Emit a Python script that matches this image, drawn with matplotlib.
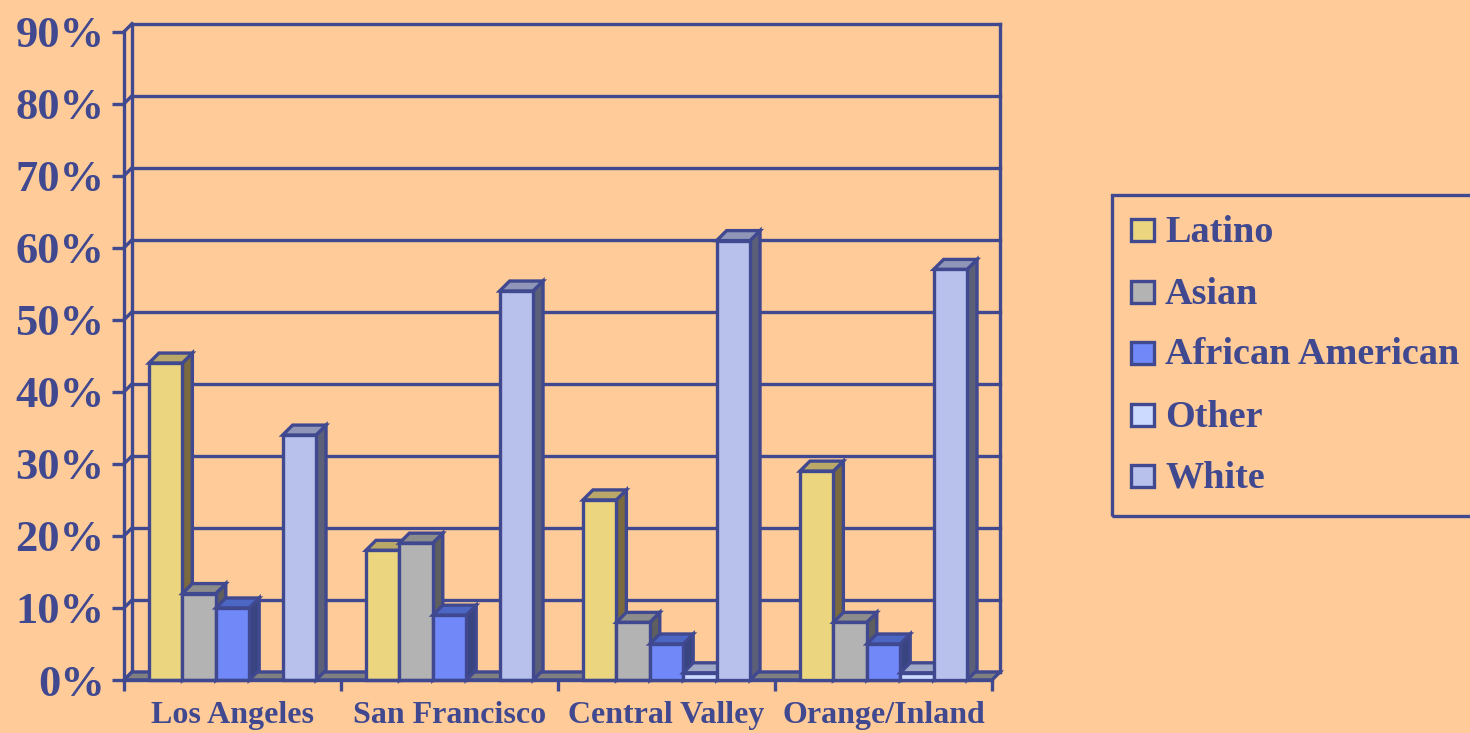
import matplotlib
matplotlib.use("Agg")
import matplotlib.pyplot as plt
from matplotlib.patches import Polygon, Rectangle

# ---- data -------------------------------------------------------------
regions = ["Los Angeles", "San Francisco", "Central Valley", "Orange/Inland"]
groups = ["Latino", "Asian", "African American", "Other", "White"]
latino = [44, 18, 25, 29]
asian = [12, 19, 8, 8]
african_american = [10, 9, 5, 5]
other = [0, 0, 1, 1]
white = [34, 54, 61, 57]
y_ticks = [0, 10, 20, 30, 40, 50, 60, 70, 80, 90]
y_tick_labels = ["0%", "10%", "20%", "30%", "40%", "50%", "60%", "70%", "80%", "90%"]

series = [latino, asian, african_american, other, white]

# ---- style ------------------------------------------------------------
BG = "#FFCC99"
INK = "#40488F"
FLOOR = "#808080"
front_colors = ["#EBD67F", "#B3B3B3", "#7088F8", "#CCDAFF", "#B8C1EB"]
top_colors = ["#B9A867", "#8C8C8C", "#4C66C4", "#A0A9C8", "#8F96B8"]
side_colors = ["#7A6A3E", "#5E5E5E", "#384580", "#5F6784", "#5B5F77"]
SERIF = "Liberation Serif"
LW = 2.4

W_PX, H_PX = 1470, 733
fig = plt.figure(figsize=(W_PX / 100, H_PX / 100), dpi=100, facecolor=BG)

x0_px, x1_px = 124, 992
y0_px, y90_px = 680, 31.7
ax = fig.add_axes([x0_px / W_PX, 1 - y0_px / H_PX,
                   (x1_px - x0_px) / W_PX, (y0_px - y90_px) / H_PX])
ax.set_facecolor("none")
ax.set_xlim(0, 4)
ax.set_ylim(0, 90)

# pixel -> data conversion for the pseudo-3D depth offsets
ux = (x1_px - x0_px) / 4.0
uy = (y0_px - y90_px) / 90.0
dxw, dyw = 8 / ux, 8 / uy      # wall depth
dxb, dyb = 10 / ux, 10 / uy    # bar depth

# ---- axes frame -------------------------------------------------------
for s in ("top", "right"):
    ax.spines[s].set_visible(False)
for s in ("left", "bottom"):
    ax.spines[s].set_color(INK)
    ax.spines[s].set_linewidth(LW)
    ax.spines[s].set_zorder(30)

ax.set_yticks(y_ticks)
ax.set_yticklabels(y_tick_labels)
ax.tick_params(axis="y", direction="out", length=9, width=LW, color=INK,
               labelcolor=INK, labelsize=32, pad=5)
for lab in ax.get_yticklabels():
    lab.set_fontfamily(SERIF)
    lab.set_fontweight("bold")

ax.set_xticks([0, 1, 2, 3, 4])
ax.set_xticklabels([])
ax.tick_params(axis="x", which="major", direction="out", length=8, width=LW, color=INK)
ax.set_xticks([i + 0.5 for i in range(len(regions))], minor=True)
ax.set_xticklabels(regions, minor=True)
ax.tick_params(axis="x", which="minor", length=0, labelcolor=INK, labelsize=23, pad=15)
for lab in ax.get_xticklabels(minor=True):
    lab.set_fontfamily(SERIF)
    lab.set_fontweight("bold")

# back wall: gridlines plus the diagonal connectors at the left edge
for v in y_ticks:
    ax.plot([dxw, 4 + dxw], [v + dyw, v + dyw], color=INK, lw=LW, zorder=1,
            clip_on=False, solid_capstyle="projecting")
    ax.plot([0, dxw], [v, v + dyw], color=INK, lw=LW, zorder=1, clip_on=False)
ax.plot([dxw, dxw], [dyw, 90 + dyw], color=INK, lw=LW, zorder=1, clip_on=False)
ax.plot([4 + dxw, 4 + dxw], [dyw, 90 + dyw], color=INK, lw=LW, zorder=1, clip_on=False)

# floor
ax.add_patch(Polygon([(0, 0), (4, 0), (4 + dxw, dyw), (dxw, dyw)], closed=True,
                     facecolor=FLOOR, edgecolor=INK, lw=LW, zorder=2, clip_on=False))

# ---- bars ---------------------------------------------------------------
n = len(groups)
bw = 0.154
margin = (1 - n * bw) / 2
z = 10
for i in range(len(regions)):
    for j in range(n):
        v = series[j][i]
        if v <= 0:
            continue
        left = i + margin + j * bw
        right = left + bw
        top = Polygon([(left, v), (right, v), (right + dxb, v + dyb), (left + dxb, v + dyb)],
                      closed=True, facecolor=top_colors[j], edgecolor=INK, lw=LW,
                      zorder=z, clip_on=False, joinstyle="miter")
        side = Polygon([(right, 0), (right + dxb, dyb), (right + dxb, v + dyb), (right, v)],
                       closed=True, facecolor=side_colors[j], edgecolor=INK, lw=LW,
                       zorder=z, clip_on=False, joinstyle="miter")
        ax.add_patch(side)
        ax.add_patch(top)
        ax.bar(left, v, width=bw, align="edge", color=front_colors[j],
               edgecolor=INK, linewidth=LW, zorder=z + 1, clip_on=False)
        z += 2

# ---- legend -------------------------------------------------------------
def fx(px):
    return px / W_PX


def fy(py):
    return 1 - py / H_PX


fig.patches.append(Rectangle((fx(1112), fy(516)), fx(1480) - fx(1112), fy(195) - fy(516),
                             transform=fig.transFigure, facecolor="none",
                             edgecolor=INK, lw=LW, zorder=5))
entry_y = [229.5, 292, 352.5, 415, 476]
for j, name in enumerate(groups):
    cy = entry_y[j]
    fig.patches.append(Rectangle((fx(1131), fy(cy + 11)), fx(1154) - fx(1131), fy(cy - 11) - fy(cy + 11),
                                 transform=fig.transFigure, facecolor=front_colors[j],
                                 edgecolor=INK, lw=LW, zorder=6))
    fig.text(fx(1165), fy(cy + 12), name, color=INK, fontsize=27.5, fontweight="bold",
             fontfamily=SERIF, ha="left", va="baseline")

fig.savefig("out.png", dpi=100, facecolor=BG)
